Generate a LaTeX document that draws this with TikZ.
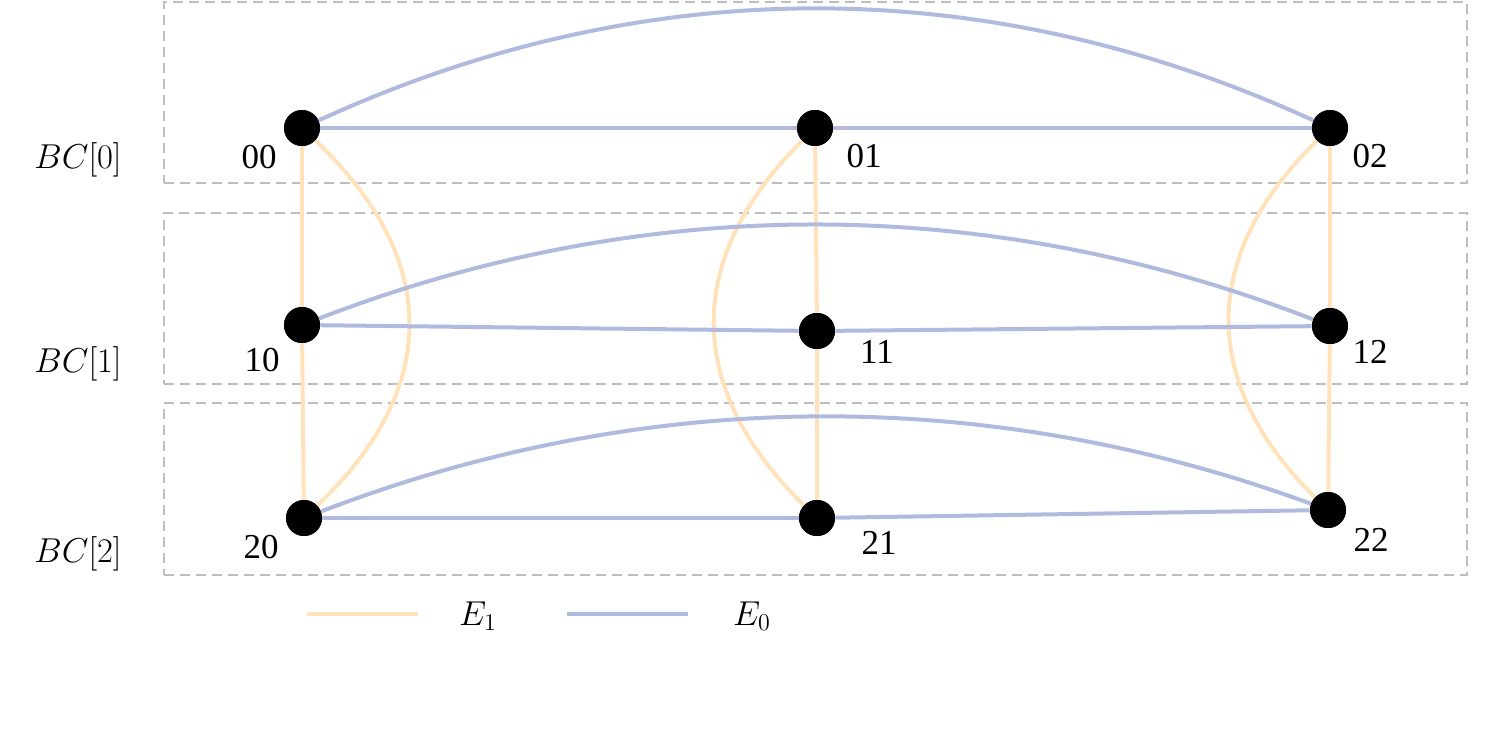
\documentclass[tikz,border=0pt]{standalone}
\usepackage{fontspec}
\newfontfamily\lblfont{Liberation Serif}
\definecolor{eblue}{RGB}{176,186,222}
\definecolor{eyel}{RGB}{255,226,186}
\definecolor{boxgray}{RGB}{190,190,190}
\begin{document}
\begin{tikzpicture}[x=0.5pt,y=-0.5pt,
  vtx/.style={circle,fill=black,inner sep=0pt,minimum size=18pt},
  lbl/.style={font=\lblfont\fontsize{17.5}{19}\selectfont,inner sep=0pt},
  bclbl/.style={font=\fontsize{18}{20}\selectfont,inner sep=0pt},
  blueedge/.style={draw=eblue,line width=2pt},
  yeledge/.style={draw=eyel,line width=2pt},
  grp/.style={draw=boxgray,line width=0.6pt,dash pattern=on 5pt off 3pt}]
\useasboundingbox (0,0) rectangle (1495,730);
% group boxes
\node[grp,minimum width=651.5pt,minimum height=90.5pt,inner sep=0pt] (box0) at (815.5,92.5) {};
\node[grp,minimum width=651.5pt,minimum height=85.5pt,inner sep=0pt] (box1) at (815.5,298.5) {};
\node[grp,minimum width=651.5pt,minimum height=86pt,inner sep=0pt] (box2) at (815.5,489) {};
\node[bclbl] (bc0) at (78,160) {$BC[0]$};
\node[bclbl] (bc1) at (78,364) {$BC[1]$};
\node[bclbl] (bc2) at (78,554) {$BC[2]$};
% vertices
\node[vtx] (n00) at (302,128) {};
\node[vtx] (n01) at (815,128) {};
\node[vtx] (n02) at (1330,128) {};
\node[vtx] (n10) at (302,325) {};
\node[vtx] (n11) at (817,331) {};
\node[vtx] (n12) at (1330,326) {};
\node[vtx] (n20) at (304,518) {};
\node[vtx] (n21) at (817,518) {};
\node[vtx] (n22) at (1328,510) {};
% E1 edges (yellow)
\draw[yeledge] (n00) -- (n10);
\draw[yeledge] (n10) -- (n20);
\draw[yeledge] (n01) -- (n11);
\draw[yeledge] (n11) -- (n21);
\draw[yeledge] (n02) -- (n12);
\draw[yeledge] (n12) -- (n22);
\draw[yeledge] (n00) .. controls (440,258) and (441,388) .. (n20);
\draw[yeledge] (n01) .. controls (684,258) and (684,388) .. (n21);
\draw[yeledge] (n02) .. controls (1200,255) and (1199,383) .. (n22);
% E0 edges (blue)
\draw[blueedge] (n00) -- (n01);
\draw[blueedge] (n01) -- (n02);
\draw[blueedge] (n10) -- (n11);
\draw[blueedge] (n11) -- (n12);
\draw[blueedge] (n20) -- (n21);
\draw[blueedge] (n21) -- (n22);
\draw[blueedge] (n00) .. controls (645,-29) and (987,-29) .. (n02);
\draw[blueedge] (n10) .. controls (645,193) and (987,193) .. (n12);
\draw[blueedge] (n20) .. controls (645,387) and (987,385) .. (n22);
% redraw vertices on top
\foreach \n in {n00,n01,n02,n10,n11,n12,n20,n21,n22}{\fill[black] (\n) circle (9pt);}
% vertex labels
\node[lbl] (l00) at (259,157) {00};
\node[lbl] (l01) at (864,156) {01};
\node[lbl] (l02) at (1370,156) {02};
\node[lbl] (l10) at (262,360) {10};
\node[lbl] (l11) at (877,352) {11};
\node[lbl] (l12) at (1370,352) {12};
\node[lbl] (l20) at (261,547) {20};
\node[lbl] (l21) at (879,543) {21};
\node[lbl] (l22) at (1371,540) {22};
% legend
\coordinate (ly1) at (307,614);
\coordinate (ly2) at (418,614);
\coordinate (lb1) at (567,614);
\coordinate (lb2) at (688,614);
\draw[yeledge] (ly1) -- (ly2);
\draw[blueedge] (lb1) -- (lb2);
\node[bclbl] (e1) at (478,616) {$E_{\scriptstyle 1}$};
\node[bclbl] (e0) at (752,616) {$E_{\scriptstyle 0}$};
\end{tikzpicture}
\end{document}
